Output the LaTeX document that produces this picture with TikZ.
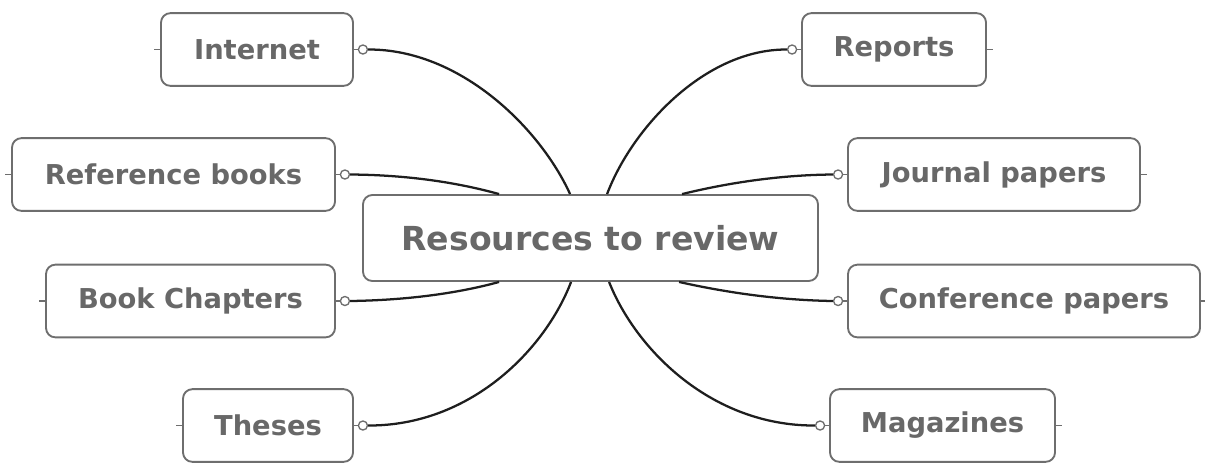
\documentclass[tikz,border=0pt]{standalone}
\usepackage{fontspec}
\setmainfont{DejaVu Sans}
\usetikzlibrary{calc}
\definecolor{txtgray}{HTML}{686868}
\definecolor{boxgray}{HTML}{6E6E6E}
\definecolor{linecol}{HTML}{1E1E1E}
\tikzset{
  leaf/.style={draw=boxgray, line width=1.4pt, rounded corners=7pt, fill=white,
    text=txtgray, font=\fontsize{20.5}{23}\selectfont\bfseries,
    minimum height=54.5pt, inner sep=0pt},
  hub/.style={leaf, font=\fontsize{24.8}{28}\selectfont\bfseries, minimum height=64.5pt},
  wd/.style={minimum width=#1*0.75pt},
  dot/.style={circle, draw=boxgray, line width=1pt, fill=white, inner sep=0pt, minimum size=6.8pt},
  stub/.style={draw=boxgray, line width=1pt},
  conn/.style={draw=linecol, line width=1.7pt},
}
\begin{document}
\begin{tikzpicture}[x=0.75pt, y=-0.75pt]
\useasboundingbox (0,0) rectangle (1205,462);
% hub
\node[hub, wd=455] (c) at (590.5,238) {Resources to review};
% leaves
\node[leaf, wd=192] (int) at (257,49.5) {Internet};
\node[leaf, wd=323] (ref) at (173.5,174.5) {Reference books};
\node[leaf, wd=289] (bch) at (190.5,301) {Book Chapters};
\node[leaf, wd=170] (the) at (268,425.5) {Theses};
\node[leaf, wd=184] (rep) at (894,49.5) {Reports};
\node[leaf, wd=292] (jou) at (994,174.5) {Journal papers};
\node[leaf, wd=352] (con) at (1024,301) {Conference papers};
\node[leaf, wd=225] (mag) at (942.5,425.5) {Magazines};
% attachment dots
\node[dot] (intd) at ($(int.east)+(9,0)$) {};
\node[dot] (refd) at ($(ref.east)+(9,0)$) {};
\node[dot] (bchd) at ($(bch.east)+(9,0)$) {};
\node[dot] (thed) at ($(the.east)+(9,0)$) {};
\node[dot] (repd) at ($(rep.west)+(-9,0)$) {};
\node[dot] (joud) at ($(jou.west)+(-9,0)$) {};
\node[dot] (cond) at ($(con.west)+(-9,0)$) {};
\node[dot] (magd) at ($(mag.west)+(-9,0)$) {};
\foreach \n in {int,ref,bch,the}{
  \draw[stub] (\n.east) -- (\n d.west);
  \draw[stub] (\n.west) -- ++(-6,0);
}
\foreach \n in {rep,jou,con,mag}{
  \draw[stub] (\n.west) -- (\n d.east);
  \draw[stub] (\n.east) -- ++(6,0);
}
% hub attachment points
\coordinate (cInt) at ($(c.north west)+(208,0)$);
\coordinate (cRep) at ($(c.north west)+(245,0)$);
\coordinate (cRef) at ($(c.north west)+(137,0)$);
\coordinate (cJou) at ($(c.north west)+(320,0)$);
\coordinate (cBch) at ($(c.south west)+(137,0)$);
\coordinate (cThe) at ($(c.south west)+(209,0)$);
\coordinate (cCon) at ($(c.south west)+(317,0)$);
\coordinate (cMag) at ($(c.south west)+(247,0)$);
% connectors
\draw[conn] (intd.east) .. controls (460,49) and (540,128) .. (cInt);
\draw[conn] (refd.east) .. controls (420,175) and (470,186) .. (cRef);
\draw[conn] (bchd.east) .. controls (420,300) and (470,290) .. (cBch);
\draw[conn] (thed.east) .. controls (470,426) and (545,350) .. (cThe);
\draw[conn] (repd.west) .. controls (705,49) and (632,128) .. (cRep);
\draw[conn] (joud.west) .. controls (770,175) and (715,186) .. (cJou);
\draw[conn] (cond.west) .. controls (770,300) and (715,290) .. (cCon);
\draw[conn] (magd.west) .. controls (712,426) and (636,350) .. (cMag);
\end{tikzpicture}
\end{document}
